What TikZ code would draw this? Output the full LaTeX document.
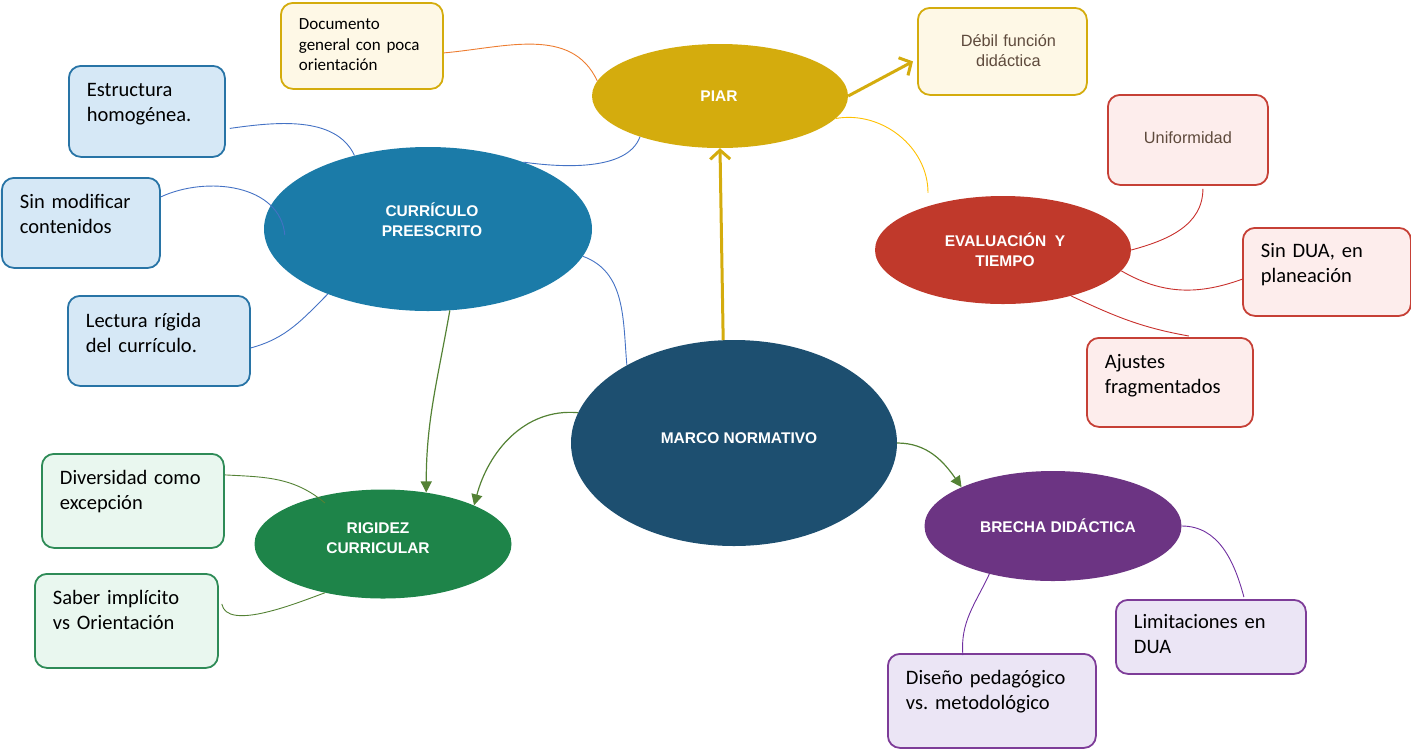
\documentclass[tikz,border=0pt]{standalone}
\usepackage{fontspec}
\setmainfont{Carlito}
\newfontfamily\arialf{Liberation Sans}
\usetikzlibrary{shapes.geometric,arrows.meta}
\frenchspacing

\definecolor{piargold}{HTML}{D4AC0D}
\definecolor{piarfill}{HTML}{FEF8E6}
\definecolor{softtext}{HTML}{5E4A3C}
\definecolor{currblue}{HTML}{1B7BA8}
\definecolor{currfill}{HTML}{D6E8F6}
\definecolor{currline}{HTML}{2874A6}
\definecolor{marcoblue}{HTML}{1D4F70}
\definecolor{evalred}{HTML}{C0392B}
\definecolor{evalfill}{HTML}{FDEDEC}
\definecolor{evalline}{HTML}{C64036}
\definecolor{rigidgreen}{HTML}{1E8449}
\definecolor{rigidfill}{HTML}{E9F7EF}
\definecolor{rigidline}{HTML}{2E8B57}
\definecolor{brechapurple}{HTML}{6C3483}
\definecolor{brechafill}{HTML}{EBE5F5}
\definecolor{brechaline}{HTML}{7D3C98}
\definecolor{linkorange}{HTML}{ED7D31}
\definecolor{linkblue}{HTML}{4472C4}
\definecolor{linkyellow}{HTML}{FFC000}
\definecolor{linkgreen}{HTML}{548235}
\definecolor{linkred}{HTML}{C8302C}
\definecolor{linkpurple}{HTML}{7030A0}

\begin{document}
\begin{tikzpicture}[x=1pt,y=1pt,
   ell/.style={ellipse,inner sep=0pt},
   elltext/.style={text=white,align=center,font=\arialf\bfseries\fontsize{15.5}{19.7}\selectfont},
   leaf/.style={draw,rounded corners=12pt,line width=1.8pt,anchor=north west,align=left,
     inner xsep=18pt,inner ysep=0pt,text height=31pt,font=\fontsize{20.5}{25}\selectfont},
   softleaf/.style={leaf,align=center,text=softtext,font=\arialf\fontsize{16.3}{19.5}\selectfont},
   thinlink/.style={line width=0.9pt},
   greenarrow/.style={line width=1.2pt,draw=linkgreen,-{Triangle[length=11pt,width=11pt]}},
   goldarrow/.style={line width=3pt,draw=piargold,-{Straight Barb[length=9pt,width=20pt]}}]

   \useasboundingbox (0,0) rectangle (1411,-748);

   \node[ell,fill=piargold,minimum width=256pt,minimum height=104pt] (piar) at (720,-96) {};
   \node[ell,fill=currblue,minimum width=328pt,minimum height=164pt] (curr) at (428,-229) {};
   \node[ell,fill=marcoblue,minimum width=326pt,minimum height=206pt] (marco) at (734,-443) {};
   \node[ell,fill=evalred,minimum width=256pt,minimum height=108pt] (eval) at (1003,-250) {};
   \node[ell,fill=rigidgreen,minimum width=257pt,minimum height=109pt] (rigid) at (383,-544) {};
   \node[ell,fill=brechapurple,minimum width=257pt,minimum height=110pt] (brecha) at (1053,-526) {};

   \node[elltext] (piar-t) at ([xshift=-1pt]piar) {PIAR};
   \node[elltext] (curr-t) at ([shift={(4,9)}]curr) {CURRÍCULO\\PREESCRITO};
   \node[elltext] (marco-t) at ([shift={(5,5)}]marco) {MARCO NORMATIVO};
   \node[elltext] (eval-t) at ([xshift=2pt]eval) {EVALUACIÓN\ \ Y\\TIEMPO};
   \node[elltext] (rigid-t) at ([shift={(-5,6)}]rigid) {RIGIDEZ\\CURRICULAR};
   \node[elltext] (brecha-t) at ([xshift=5pt]brecha) {BRECHA DIDÁCTICA};

   \node[leaf,fill=piarfill,draw=piargold,text width=126pt,text height=27pt,text depth=59pt,
     font=\fontsize{17}{20.5}\selectfont] (doc) at (280,-2) {Documento\\general con poca\\orientación};
   \node[softleaf,fill=piarfill,draw=piargold,text width=133pt,text height=39pt,text depth=48pt]
     (debil) at (917,-7) {\hspace*{12pt}Débil función\\\hspace*{12pt}didáctica};

   \node[leaf,fill=currfill,draw=currline,text width=120pt,text depth=60pt] (estr) at (68,-65) {Estructura\\homogénea.};
   \node[leaf,fill=currfill,draw=currline,text width=122pt,text depth=59pt] (sinm) at (1,-177) {Sin modificar\\contenidos};
   \node[leaf,fill=currfill,draw=currline,text width=146pt,text height=32pt,text depth=58pt] (lect) at (67,-295) {Lectura rígida\\del currículo.};

   \node[softleaf,fill=evalfill,draw=evalline,text width=124pt,text height=49pt,text depth=41pt] (unif) at (1107,-94) {Uniformidad};
   \node[leaf,fill=evalfill,draw=evalline,text width=132pt,text height=30pt,text depth=58pt] (sdua) at (1242,-227) {Sin DUA, en\\planeación};
   \node[leaf,fill=evalfill,draw=evalline,text width=130pt,text depth=58pt] (aju) at (1086,-337) {Ajustes\\fragmentados};

   \node[leaf,fill=rigidfill,draw=rigidline,text width=146pt,text depth=63pt] (div) at (41,-453) {Diversidad como\\excepción};
   \node[leaf,fill=rigidfill,draw=rigidline,text width=147pt,text depth=63pt] (sab) at (34,-573) {Saber implícito\\vs Orientación};

   \node[leaf,fill=brechafill,draw=brechaline,text width=154pt,text height=29pt,text depth=45pt] (lim) at (1115,-599) {Limitaciones en\\DUA};
   \node[leaf,fill=brechafill,draw=brechaline,text width=172pt,text depth=63pt] (dis) at (887,-653) {Diseño pedagógico\\vs. metodológico};

   \draw[goldarrow] (marco.96) -- (piar.south);
   \draw[goldarrow] (piar.east) -- ([shift={(-4,-10)}]debil.west);

   \draw[greenarrow] (marco.169) to[out=175,in=75] (rigid.23);
   \draw[greenarrow] (curr.-75) to[out=-100,in=90] (rigid.50);
   \draw[greenarrow] (marco.east) to[out=0,in=125] (brecha.157);

   \draw[thinlink,linkorange] ([yshift=-7pt]doc.east) to[out=5,in=115] (piar.173);
   \draw[thinlink,linkblue] ([shift={(4,-17)}]estr.east) to[out=8,in=115,looseness=0.9] (curr.135);
   \draw[thinlink,linkblue] ([yshift=26pt]sinm.east) to[out=25,in=95] ([shift={(21,-6)}]curr.west);
   \draw[thinlink,linkblue] ([yshift=-7pt]lect.east) to[out=15,in=225] (curr.213);
   \draw[thinlink,linkblue] (curr.35) to[out=-8,in=-110,looseness=0.8] (piar.207);
   \draw[thinlink,linkblue] (curr.-10) to[out=-20,in=95] (marco.144);
   \draw[thinlink,linkyellow] (piar.-11) to[out=10,in=90] ([shift={(-75,3)}]eval.north);
   \draw[thinlink,linkgreen] ([yshift=26pt]div.east) to[out=-3,in=140] ([shift={(-58,41)}]rigid.center);
   \draw[thinlink,linkgreen] ([shift={(3,17)}]sab.east) to[out=-80,in=200,looseness=0.7] (rigid.220);
   \draw[thinlink,linkred] (eval.east) to[out=15,in=-90] ([shift={(15,-3)}]unif.south);
   \draw[thinlink,linkred] (eval.-10) to[out=-30,in=200] ([shift={(1,-7)}]sdua.west);
   \draw[thinlink,linkred] (eval.-34) to[out=-25,in=170] ([shift={(19,1)}]aju.north);
   \draw[thinlink,linkpurple] (brecha.east) to[out=0,in=105] ([shift={(33,2)}]lim.north);
   \draw[thinlink,linkpurple] (brecha.217) to[out=-115,in=95] ([shift={(-29,-2)}]dis.north);

\end{tikzpicture}
\end{document}
